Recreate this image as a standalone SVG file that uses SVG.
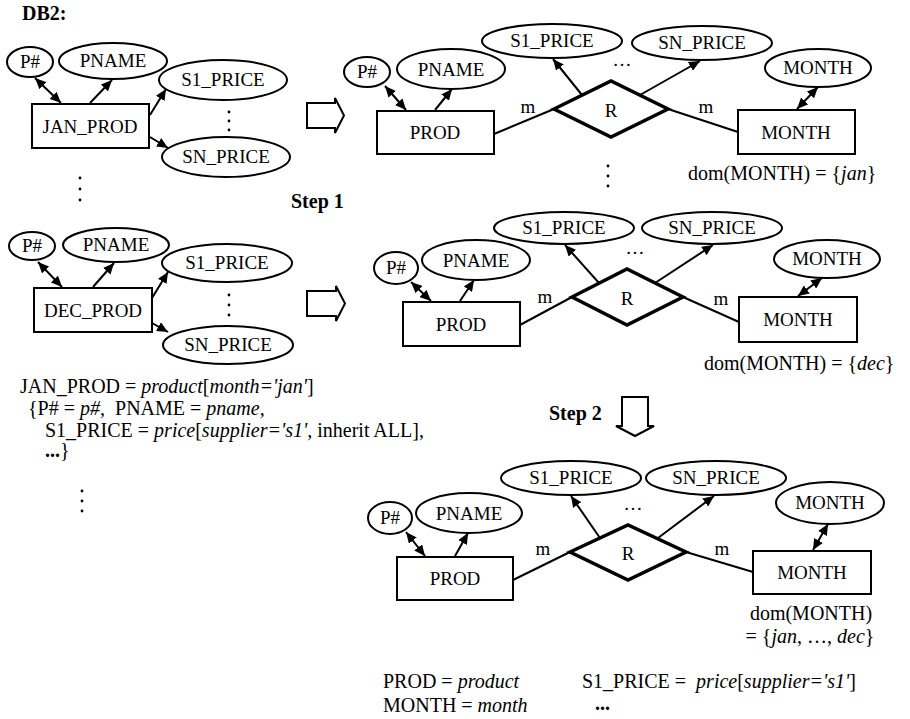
<svg xmlns="http://www.w3.org/2000/svg" width="910" height="719" viewBox="0 0 910 719">
  <style>
    text { font-family: "Liberation Serif", "Times New Roman", serif; fill: #000; }
    .lbl { font-size: 19px; text-anchor: middle; }
    .txt { font-size: 20px; }
    .b { font-weight: bold; }
    .i { font-style: italic; }
    .vdots circle { fill: #000; }
    .e, .r { fill: #fff; stroke: #000; stroke-width: 2; }
    .d { fill: #fff; stroke: #000; stroke-width: 3.5; stroke-linejoin: miter; }
    .hollow { fill: #fff; stroke: #000; stroke-width: 2; }
    #connectors line { stroke: #000; stroke-width: 2; }
    .a { marker-end: url(#ah); }
    .aa { marker-start: url(#ah); marker-end: url(#ah); }
  </style>
  <defs>
    <marker id="ah" viewBox="0 0 11 10" refX="11" refY="5" markerWidth="11" markerHeight="10" markerUnits="userSpaceOnUse" orient="auto-start-reverse">
      <path d="M0,0 L11,5 L0,10 z" fill="#000"/>
    </marker>
  </defs>
  <rect width="910" height="719" fill="#fff"/>

  <text class="txt b" x="22" y="20">DB2:</text>

  <!-- vertical ellipses (stacked dots) -->
  <g class="vdots">
    <circle cx="229" cy="112" r="1.4"/><circle cx="229" cy="121" r="1.4"/><circle cx="229" cy="130" r="1.4"/>
    <circle cx="80" cy="178" r="1.4"/><circle cx="80" cy="189" r="1.4"/><circle cx="80" cy="200" r="1.4"/>
    <circle cx="229" cy="295" r="1.4"/><circle cx="229" cy="305" r="1.4"/><circle cx="229" cy="315" r="1.4"/>
    <circle cx="608" cy="166" r="1.4"/><circle cx="608" cy="176" r="1.4"/><circle cx="608" cy="186" r="1.4"/>
    <circle cx="82" cy="491" r="1.4"/><circle cx="82" cy="501" r="1.4"/><circle cx="82" cy="511" r="1.4"/>
  </g>

  <!-- ===== JAN_PROD source schema ===== -->
  <g id="jan-p">
    <ellipse class="e" cx="30" cy="62" rx="23" ry="15"/>
    <text class="lbl" x="30" y="68">P#</text>
  </g>
  <g id="jan-pname">
    <ellipse class="e" cx="113" cy="61" rx="54" ry="18"/>
    <text class="lbl" x="113" y="67">PNAME</text>
  </g>
  <g id="jan-s1">
    <ellipse class="e" cx="223" cy="80" rx="64" ry="20"/>
    <text class="lbl" x="223" y="86">S1_PRICE</text>
  </g>
  <g id="jan-sn">
    <ellipse class="e" cx="226" cy="157" rx="64" ry="20"/>
    <text class="lbl" x="226" y="163">SN_PRICE</text>
  </g>
  <g id="jan-prod">
    <rect class="r" x="32" y="104" width="117" height="44"/>
    <text class="lbl" x="90" y="133">JAN_PROD</text>
  </g>

  <!-- ===== DEC_PROD source schema ===== -->
  <g id="dec-p">
    <ellipse class="e" cx="32" cy="246" rx="23" ry="14"/>
    <text class="lbl" x="32" y="252">P#</text>
  </g>
  <g id="dec-pname">
    <ellipse class="e" cx="116" cy="245" rx="53" ry="17"/>
    <text class="lbl" x="116" y="251">PNAME</text>
  </g>
  <g id="dec-s1">
    <ellipse class="e" cx="227" cy="263" rx="65" ry="19"/>
    <text class="lbl" x="227" y="269">S1_PRICE</text>
  </g>
  <g id="dec-sn">
    <ellipse class="e" cx="228" cy="345" rx="65" ry="19"/>
    <text class="lbl" x="228" y="351">SN_PRICE</text>
  </g>
  <g id="dec-prod">
    <rect class="r" x="34" y="288" width="118" height="44"/>
    <text class="lbl" x="93" y="317">DEC_PROD</text>
  </g>

  <!-- Step 1 arrows -->
  <g id="step1">
    <polygon class="hollow" points="307,103 335,103 335,98 344,115.5 335,133 335,128 307,128"/>
    <polygon class="hollow" points="307,291 336,291 336,286 345,303.5 336,321 336,316 307,316"/>
    <text class="txt b" x="291" y="208">Step 1</text>
  </g>

  <!-- ===== JAN result schema ===== -->
  <g id="j-p">
    <ellipse class="e" cx="367" cy="72" rx="23" ry="15"/>
    <text class="lbl" x="367" y="78">P#</text>
  </g>
  <g id="j-pname">
    <ellipse class="e" cx="451" cy="69" rx="54" ry="20"/>
    <text class="lbl" x="451" y="76">PNAME</text>
  </g>
  <g id="j-s1">
    <ellipse class="e" cx="552" cy="41" rx="70" ry="17"/>
    <text class="lbl" x="552" y="47">S1_PRICE</text>
  </g>
  <g id="j-sn">
    <ellipse class="e" cx="702" cy="43" rx="70" ry="17"/>
    <text class="lbl" x="702" y="49">SN_PRICE</text>
  </g>
  <g id="j-month-attr">
    <ellipse class="e" cx="818" cy="68" rx="53" ry="19"/>
    <text class="lbl" x="818" y="74">MONTH</text>
  </g>
  <g id="j-prod">
    <rect class="r" x="377" y="111" width="117" height="43"/>
    <text class="lbl" x="435" y="139">PROD</text>
  </g>
  <g id="j-r">
    <polygon class="d" points="554,109 611,81 668,109 611,137"/>
    <text class="lbl" x="611" y="117">R</text>
  </g>
  <g id="j-month">
    <rect class="r" x="738" y="110" width="117" height="44"/>
    <text class="lbl" x="796" y="139">MONTH</text>
  </g>
  <text class="lbl" x="622" y="66">…</text>
  <text class="lbl" x="528" y="113">m</text>
  <text class="lbl" x="706" y="113">m</text>
  <text class="txt" x="688" y="180">dom(MONTH) = {<tspan class="i">jan</tspan>}</text>

  <!-- ===== DEC result schema ===== -->
  <g id="d-p">
    <ellipse class="e" cx="396" cy="268" rx="22" ry="16"/>
    <text class="lbl" x="396" y="274">P#</text>
  </g>
  <g id="d-pname">
    <ellipse class="e" cx="476" cy="260" rx="54" ry="20"/>
    <text class="lbl" x="476" y="267">PNAME</text>
  </g>
  <g id="d-s1">
    <ellipse class="e" cx="564" cy="228" rx="70" ry="16"/>
    <text class="lbl" x="564" y="234">S1_PRICE</text>
  </g>
  <g id="d-sn">
    <ellipse class="e" cx="712" cy="228" rx="70" ry="16"/>
    <text class="lbl" x="712" y="234">SN_PRICE</text>
  </g>
  <g id="d-month-attr">
    <ellipse class="e" cx="827" cy="259" rx="53" ry="19"/>
    <text class="lbl" x="827" y="265">MONTH</text>
  </g>
  <g id="d-prod">
    <rect class="r" x="403" y="302" width="117" height="44"/>
    <text class="lbl" x="461" y="331">PROD</text>
  </g>
  <g id="d-r">
    <polygon class="d" points="572,297 627,269 683,297 627,325"/>
    <text class="lbl" x="627" y="305">R</text>
  </g>
  <g id="d-month">
    <rect class="r" x="739" y="297" width="118" height="45"/>
    <text class="lbl" x="798" y="326">MONTH</text>
  </g>
  <text class="lbl" x="635" y="254">…</text>
  <text class="lbl" x="545" y="303">m</text>
  <text class="lbl" x="721" y="305">m</text>
  <text class="txt" x="704" y="370">dom(MONTH) = {<tspan class="i">dec</tspan>}</text>

  <!-- mapping definition -->
  <g id="mapping">
    <text class="txt" x="20" y="393">JAN_PROD = <tspan class="i">product</tspan>[<tspan class="i">month='jan'</tspan>]</text>
    <text class="txt" x="28" y="415">{P# = <tspan class="i">p#,</tspan>&#160; PNAME = <tspan class="i">pname,</tspan></text>
    <text class="txt" x="45" y="437">S1_PRICE = <tspan class="i">price</tspan>[<tspan class="i">supplier='s1',</tspan> inherit ALL],</text>
    <text class="txt" x="45" y="457"><tspan class="b">...</tspan>}</text>
  </g>

  <!-- Step 2 arrow -->
  <g id="step2">
    <text class="txt b" x="549" y="420">Step 2</text>
    <polygon class="hollow" points="622,397 648,397 648,426 654,426 635,436 616,426 622,426"/>
  </g>

  <!-- ===== merged schema ===== -->
  <g id="m-p">
    <ellipse class="e" cx="390" cy="518" rx="22" ry="16"/>
    <text class="lbl" x="390" y="524">P#</text>
  </g>
  <g id="m-pname">
    <ellipse class="e" cx="469" cy="513" rx="53" ry="20"/>
    <text class="lbl" x="469" y="520">PNAME</text>
  </g>
  <g id="m-s1">
    <ellipse class="e" cx="571" cy="478" rx="70" ry="17"/>
    <text class="lbl" x="571" y="484">S1_PRICE</text>
  </g>
  <g id="m-sn">
    <ellipse class="e" cx="716" cy="478" rx="70" ry="17"/>
    <text class="lbl" x="716" y="484">SN_PRICE</text>
  </g>
  <g id="m-month-attr">
    <ellipse class="e" cx="830" cy="503" rx="54" ry="21"/>
    <text class="lbl" x="830" y="509">MONTH</text>
  </g>
  <g id="m-prod">
    <rect class="r" x="397" y="557" width="116" height="43"/>
    <text class="lbl" x="455" y="585">PROD</text>
  </g>
  <g id="m-r">
    <polygon class="d" points="570,552 628,525 686,552 628,580"/>
    <text class="lbl" x="628" y="560">R</text>
  </g>
  <g id="m-month">
    <rect class="r" x="753" y="551" width="118" height="43"/>
    <text class="lbl" x="812" y="579">MONTH</text>
  </g>
  <text class="lbl" x="633" y="510">…</text>
  <text class="lbl" x="543" y="555">m</text>
  <text class="lbl" x="722" y="555">m</text>
  <text class="txt" x="811" y="620" text-anchor="middle">dom(MONTH)</text>
  <text class="txt" x="810" y="643" text-anchor="middle">= {<tspan class="i">jan</tspan>, …, <tspan class="i">dec</tspan>}</text>

  <text class="txt" x="383" y="688">PROD = <tspan class="i">product</tspan></text>
  <text class="txt" x="383" y="712">MONTH = <tspan class="i">month</tspan></text>
  <text class="txt" x="582" y="688">S1_PRICE =&#160; <tspan class="i">price</tspan>[<tspan class="i">supplier='s1'</tspan>]</text>
  <text class="txt b" x="595" y="710">...</text>

  <!-- ===== connectors ===== -->
  <g id="connectors">
    <!-- JAN_PROD -->
    <line class="aa" x1="61" y1="103" x2="35" y2="78"/>
    <line class="a" x1="90" y1="103" x2="112" y2="80"/>
    <line class="a" x1="150" y1="115" x2="166" y2="89"/>
    <line class="a" x1="150" y1="137" x2="168" y2="148"/>
    <!-- DEC_PROD -->
    <line class="aa" x1="62" y1="287" x2="38" y2="262"/>
    <line class="a" x1="93" y1="287" x2="114" y2="263"/>
    <line class="a" x1="152" y1="298" x2="168" y2="272"/>
    <line class="a" x1="152" y1="323" x2="168" y2="332"/>
    <!-- JAN result -->
    <line class="aa" x1="406" y1="110" x2="385" y2="86"/>
    <line class="a" x1="435" y1="110" x2="452" y2="89"/>
    <line class="a" x1="582" y1="95" x2="553" y2="59"/>
    <line class="a" x1="640" y1="95" x2="700" y2="61"/>
    <line class="aa" x1="797" y1="109" x2="818" y2="87"/>
    <line x1="494" y1="134" x2="554" y2="109"/>
    <line x1="668" y1="109" x2="738" y2="132"/>
    <!-- DEC result -->
    <line class="aa" x1="431" y1="301" x2="411" y2="282"/>
    <line class="a" x1="460" y1="301" x2="474" y2="280"/>
    <line class="a" x1="599" y1="283" x2="565" y2="245"/>
    <line class="a" x1="655" y1="283" x2="713" y2="245"/>
    <line class="aa" x1="798" y1="296" x2="822" y2="278"/>
    <line x1="520" y1="325" x2="572" y2="297"/>
    <line x1="683" y1="297" x2="739" y2="322"/>
    <!-- merged -->
    <line class="aa" x1="425" y1="556" x2="406" y2="532"/>
    <line class="a" x1="455" y1="556" x2="468" y2="533"/>
    <line class="a" x1="600" y1="538" x2="571" y2="496"/>
    <line class="a" x1="658" y1="538" x2="714" y2="496"/>
    <line class="aa" x1="813" y1="550" x2="828" y2="524"/>
    <line x1="513" y1="580" x2="570" y2="552"/>
    <line x1="686" y1="552" x2="753" y2="572"/>
  </g>
</svg>
